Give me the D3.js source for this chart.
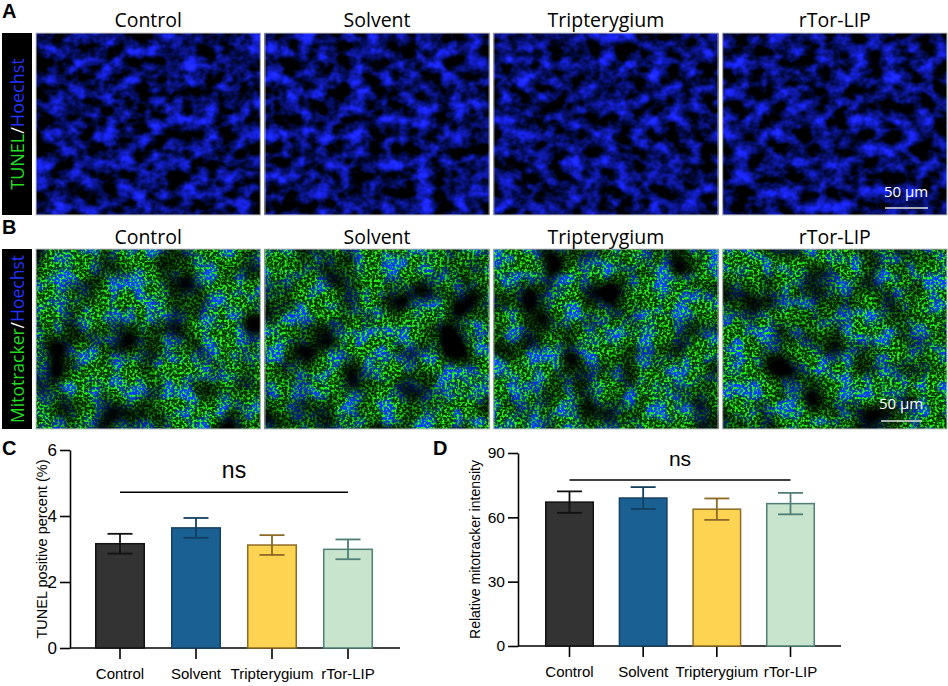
<!DOCTYPE html>
<html>
<head>
<meta charset="utf-8">
<script src="https://cdn.jsdelivr.net/npm/d3@7"></script>
<style>
  body { margin: 0; background: #fff; }
  svg { display: block; }
  .axis text { font-family: "Liberation Sans", Arial, sans-serif; fill: #000; }
  .axis path, .axis line { stroke: #000; stroke-width: 1.6px; }
  .panel-title { font-family: "Open Sans", sans-serif; font-size: 19.5px; fill: #000; }
  .panel-letter { font-family: "Liberation Sans", Arial, sans-serif; font-weight: bold; font-size: 20px; }
</style>
</head>
<body>
<svg id="fig"></svg>
<script>
// ---- data ----
const categories = ['Control', 'Solvent', 'Tripterygium', 'rTor-LIP'];
const tunelMean = [3.16, 3.64, 3.12, 2.99];
const tunelSem = [0.30, 0.30, 0.30, 0.30];
const mitoMean = [67.1, 69.0, 63.8, 66.4];
const mitoSem = [5.0, 5.1, 5.0, 5.0];
const tunelTicks = [0, 2, 4, 6];
const mitoTicks = [0, 30, 60, 90];
const nsLevel = { tunel: 4.72, mito: 77.4 };
const fillColors = ['#333333', '#1b6093', '#fdd352', '#c8e4cd'];
const strokeColors = ['#111111', '#143f5e', '#8c6a25', '#4e7e75'];

const svg = d3.select('#fig').attr('width', 948).attr('height', 686);
const defs = svg.append('defs');

// ---- microscopy panels (procedural texture via SVG filters) ----
function tunelFilter(id, seed) {
  const f = defs.append('filter').attr('id', id)
    .attr('x', 0).attr('y', 0).attr('width', 1).attr('height', 1)
    .attr('color-interpolation-filters', 'sRGB');
  // blobby noise -> dim blue nuclei on a dark field
  f.append('feTurbulence').attr('type', 'fractalNoise')
    .attr('baseFrequency', '0.06 0.07').attr('numOctaves', 3).attr('seed', seed).attr('result', 'n');
  f.append('feColorMatrix').attr('in', 'n').attr('type', 'matrix')
    .attr('values', '0.3 0 0 0 -0.13  0.35 0 0 0 -0.12  2.3 0 0 0 -0.78  0 0 0 0 1');
}

function mitoFilter(id, seed) {
  const f = defs.append('filter').attr('id', id)
    .attr('x', 0).attr('y', 0).attr('width', 1).attr('height', 1)
    .attr('color-interpolation-filters', 'sRGB');
  f.append('feTurbulence').attr('type', 'fractalNoise')
    .attr('baseFrequency', 0.055).attr('numOctaves', 2).attr('seed', seed).attr('result', 'low');
  f.append('feTurbulence').attr('type', 'fractalNoise')
    .attr('baseFrequency', 0.4).attr('numOctaves', 2).attr('seed', seed + 7).attr('result', 'high');
  f.append('feTurbulence').attr('type', 'fractalNoise')
    .attr('baseFrequency', 0.025).attr('numOctaves', 2).attr('seed', seed + 13).attr('result', 'mask');
  // nuclei layer with a faint green haze
  f.append('feColorMatrix').attr('in', 'low').attr('type', 'matrix')
    .attr('values', '0 0 0 0 0.02  0 0 0 0 0.24  3.6 0 0 0 -1.5  0 0 0 0 1').attr('result', 'blue');
  // bright mitochondrial puncta, alpha from noise
  f.append('feColorMatrix').attr('in', 'high').attr('type', 'matrix')
    .attr('values', '0 0 0 0 0.15  0 0 0 0 0.95  0 0 0 0 0.1  5 0 0 0 -2.3').attr('result', 'dots');
  f.append('feComposite').attr('in', 'dots').attr('in2', 'blue').attr('operator', 'over').attr('result', 'cells');
  f.append('feColorMatrix').attr('in', 'mask').attr('type', 'matrix')
    .attr('values', '3 0 0 0 -0.7  3 0 0 0 -0.7  3 0 0 0 -0.7  0 0 0 0 1').attr('result', 'm');
  f.append('feComposite').attr('in', 'cells').attr('in2', 'm').attr('operator', 'arithmetic')
    .attr('k1', 1).attr('k2', 0).attr('k3', 0).attr('k4', 0);
}

const imgX = d3.scaleBand().domain(categories).range([36, 947]).paddingInner(0.02);
const rows = [
  { letter: 'A', top: 33, bottom: 215, titleY: 27, kind: 'tunel',
    label: [['TUNEL', '#22dd22'], ['/', '#ffffff'], ['Hoechst', '#2233ff']],
    scaleText: { x: 906, y: 197 }, scaleLine: { x1: 885, x2: 928, y: 208 } },
  { letter: 'B', top: 249, bottom: 429, titleY: 244, kind: 'mito',
    label: [['Mitotracker', '#22dd22'], ['/', '#ffffff'], ['Hoechst', '#2233ff']],
    scaleText: { x: 901, y: 409 }, scaleLine: { x1: 881, x2: 922, y: 421 } }
];

rows.forEach(row => {
  const g = svg.append('g');
  g.append('text').attr('class', 'panel-letter').attr('x', 2).attr('y', row.top - 15).text(row.letter);

  // side label box
  g.append('rect').attr('x', 2).attr('y', row.top).attr('width', 30)
    .attr('height', row.bottom - row.top).attr('fill', '#000');
  const lbl = g.append('text')
    .attr('transform', `translate(24,${(row.top + row.bottom) / 2}) rotate(-90)`)
    .attr('text-anchor', 'middle')
    .style('font-family', '"Open Sans", sans-serif')
    .style('font-size', row.kind === 'mito' ? '17.5px' : '18px');
  row.label.forEach(([t, c]) => lbl.append('tspan').attr('fill', c).text(t));

  categories.forEach((c, i) => {
    const id = `${row.kind}-${i}`;
    if (row.kind === 'tunel') tunelFilter(id, 11 + i * 5);
    else mitoFilter(id, 31 + i * 5);
    g.append('rect').attr('x', imgX(c)).attr('y', row.top)
      .attr('width', imgX.bandwidth()).attr('height', row.bottom - row.top)
      .attr('fill', '#000').attr('filter', `url(#${id})`);
    g.append('rect').attr('x', imgX(c)).attr('y', row.top)
      .attr('width', imgX.bandwidth()).attr('height', row.bottom - row.top)
      .attr('fill', 'none').attr('stroke', '#c8c8c8').attr('stroke-width', 1);
    g.append('text').attr('class', 'panel-title')
      .attr('x', imgX(c) + imgX.bandwidth() / 2).attr('y', row.titleY)
      .attr('text-anchor', 'middle').text(c);
  });

  // scale bar
  g.append('text').attr('x', row.scaleText.x).attr('y', row.scaleText.y)
    .attr('text-anchor', 'middle').attr('fill', '#fff')
    .style('font-family', '"Open Sans", sans-serif').style('font-size', '15px')
    .text('50 µm');
  g.append('line').attr('x1', row.scaleLine.x1).attr('x2', row.scaleLine.x2)
    .attr('y1', row.scaleLine.y).attr('y2', row.scaleLine.y)
    .attr('stroke', '#e0e0e0').attr('stroke-width', 1.5);
});

// ---- bar charts ----
class BarChart {
  constructor(_config, _mean, _sem) {
    this.config = _config;
    this.mean = _mean;
    this.sem = _sem;
    this.initVis();
  }

  initVis() {
    let vis = this;
    const cfg = vis.config;
    vis.chart = svg.append('g').attr('transform', `translate(${cfg.left},${cfg.top})`);

    vis.yScale = d3.scaleLinear().domain(cfg.domain).range([cfg.height, 0]);
    vis.xScale = d3.scaleBand().domain(categories)
      .range(cfg.bandRange).paddingInner(cfg.paddingInner).paddingOuter(0);

    // x axis: full-width line with ticks under bar centres
    const xAxisG = vis.chart.append('g').attr('class', 'axis')
      .attr('transform', `translate(0,${cfg.height})`);
    xAxisG.append('line').attr('x1', 0).attr('x2', cfg.width);
    const xt = xAxisG.selectAll('.xtick').data(categories).join('g')
      .attr('transform', d => `translate(${vis.xScale(d) + vis.xScale.bandwidth() / 2},0)`);
    xt.append('line').attr('y2', 11);
    xt.append('text').attr('y', 31).attr('text-anchor', 'middle')
      .attr('font-size', 15).text(d => d);

    vis.yAxis = d3.axisLeft(vis.yScale).tickValues(cfg.ticks).tickSize(10)
      .tickPadding(3).tickSizeOuter(0).tickFormat(d3.format('d'));
    vis.chart.append('g').attr('class', 'axis').call(vis.yAxis)
      .attr('font-size', cfg.tickFont);

    vis.chart.append('text')
      .attr('transform', `translate(${cfg.titleX},${cfg.height / 2}) rotate(-90)`)
      .attr('text-anchor', 'middle')
      .style('font-family', '"Liberation Sans", Arial, sans-serif')
      .style('font-size', cfg.titleFont)
      .text(cfg.title);

    svg.append('text').attr('class', 'panel-letter')
      .attr('x', cfg.letterX).attr('y', 455).text(cfg.letter);

    vis.renderVis();
  }

  renderVis() {
    let vis = this;
    const cfg = vis.config;
    const bw = vis.xScale.bandwidth();
    const rowsData = categories.map((c, i) => ({ c, m: vis.mean[i], s: vis.sem[i], i }));

    vis.chart.selectAll('.bar').data(rowsData).join('rect')
      .attr('class', 'bar')
      .attr('x', d => vis.xScale(d.c) + 0.75)
      .attr('width', bw - 1.5)
      .attr('y', d => vis.yScale(d.m))
      .attr('height', d => vis.yScale(0) - vis.yScale(d.m))
      .attr('fill', d => fillColors[d.i])
      .attr('stroke', d => strokeColors[d.i])
      .attr('stroke-width', 1.5);

    const err = vis.chart.selectAll('.err').data(rowsData).join('g')
      .attr('class', 'err')
      .attr('transform', d => `translate(${vis.xScale(d.c) + bw / 2},0)`)
      .attr('stroke', d => strokeColors[d.i])
      .attr('stroke-width', 1.8);
    err.append('line').attr('y1', d => vis.yScale(d.m - d.s)).attr('y2', d => vis.yScale(d.m + d.s));
    err.append('line').attr('x1', -12.5).attr('x2', 12.5)
      .attr('y1', d => vis.yScale(d.m + d.s)).attr('y2', d => vis.yScale(d.m + d.s));
    err.append('line').attr('x1', -12.5).attr('x2', 12.5)
      .attr('y1', d => vis.yScale(d.m - d.s)).attr('y2', d => vis.yScale(d.m - d.s));

    // ns bracket from first to last group
    const xa = vis.xScale(categories[0]) + bw / 2;
    const xb = vis.xScale(categories[categories.length - 1]) + bw / 2;
    const yn = vis.yScale(cfg.ns);
    vis.chart.append('line').attr('x1', xa).attr('x2', xb).attr('y1', yn).attr('y2', yn)
      .attr('stroke', '#000').attr('stroke-width', 1.5);
    vis.chart.append('text').attr('x', (xa + xb) / 2).attr('y', yn - cfg.nsGap)
      .attr('text-anchor', 'middle')
      .style('font-family', '"Liberation Sans", Arial, sans-serif')
      .style('font-size', cfg.nsFont)
      .text('ns');
  }
}

new BarChart({
  left: 70, top: 450, width: 330, height: 198,
  domain: [0, 6], ticks: tunelTicks, tickFont: 17,
  bandRange: [25, 303], paddingInner: 0.342,
  title: 'TUNEL positive percent (%)', titleX: -23, titleFont: '14.5px',
  ns: nsLevel.tunel, nsGap: 14, nsFont: '23px',
  letter: 'C', letterX: 2
}, tunelMean, tunelSem);

new BarChart({
  left: 518, top: 453, width: 323, height: 193,
  domain: [0, 90], ticks: mitoTicks, tickFont: 15.5,
  bandRange: [27, 297], paddingInner: 0.335,
  title: 'Relative mitotracker intensity', titleX: -38, titleFont: '14px',
  ns: nsLevel.mito, nsGap: 14, nsFont: '21px',
  letter: 'D', letterX: 433
}, mitoMean, mitoSem);
</script>
</body>
</html>
